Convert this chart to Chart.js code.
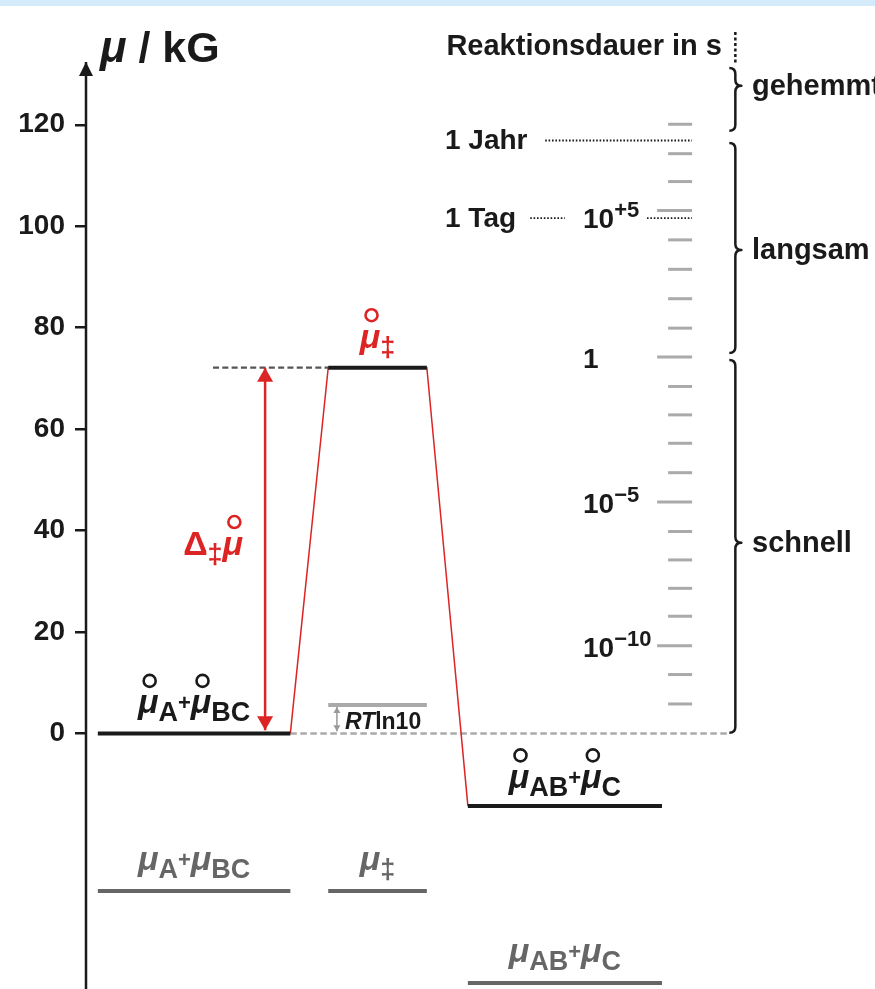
<!DOCTYPE html>
<html>
<head>
<meta charset="utf-8">
<script src="https://cdn.jsdelivr.net/npm/chart.js@4.4.1/dist/chart.umd.min.js"></script>
<style>
  html, body { margin: 0; padding: 0; background: #fff; }
  #wrap { width: 875px; height: 989px; position: relative; }
</style>
</head>
<body>
<div id="wrap"><canvas id="chart" width="875" height="989"></canvas></div>
<script>
// μ axis in kG (kJ/mol)
const muTicks = [0, 20, 40, 60, 80, 100, 120];
const muMin = -50.4;
const muMax = 144.6;

// states along the reaction coordinate (x runs 0..100)
const stateNames = ['A+BC', '‡', 'AB+C'];
const stateStart = [1.5, 30.7, 48.4];
const stateEnd = [25.9, 43.2, 73.0];
const muStandard = [0, 72.1, -14.3];   // black levels (standard potentials)
const muActual = [-31.1, -31.1, -49.2]; // grey levels (actual potentials)
const rtLn10 = 5.6;

// reaction duration scale: one tick per decade of seconds
const decadeExp = [-12, -11, -10, -9, -8, -7, -6, -5, -4, -3, -2, -1, 0, 1, 2, 3, 4, 5, 6, 7, 8];
const decadeMu = [5.8, 11.6, 17.3, 23.1, 28.6, 34.2, 39.8, 45.6, 51.4, 57.2, 62.8, 68.4, 74.2, 79.9, 85.7, 91.5, 97.3, 103.1, 108.8, 114.3, 120.1];
const labeledExp = [5, 0, -5, -10];

const timeLabels = ['1 Jahr', '1 Tag'];
const timeMu = [116.9, 101.6];

const zoneLabels = ['gehemmt', 'langsam', 'schnell'];
const zoneTop = [131.2, 116.4, 73.6];
const zoneBottom = [118.8, 75.0, 0.1];
const zoneTip = [127.7, 95.3, 37.6];

const BLACK = '#1a1a1a';
const RED = '#dd2424';
const GREY = '#666666';
const LIGHT = '#aaaaaa';
const FONT = '"Liberation Sans", Arial, sans-serif';
const MU = '\u03BC';
const DDAG = '\u2021';

function seg(t, size, opts = {}) {
    return Object.assign({ t: t, size: size }, opts);
}

// label pieces for each state: [main, sub, plus, main, sub]
function stateLabel(i, ring) {
    const m = () => seg(MU, 34, { italic: true, ring: ring });
    if (i === 0) return [m(), seg('A', 27, { dy: 8 }), seg('+', 22, { dy: -3 }), m(), seg('BC', 27, { dy: 8 })];
    if (i === 1) return [m(), seg(DDAG, 27, { dy: 8 })];
    return [m(), seg('AB', 27, { dy: 8 }), seg('+', 22, { dy: -3 }), m(), seg('C', 27, { dy: 8 })];
}

function drawRich(ctx, segs, x, y, align, color) {
    ctx.save();
    ctx.fillStyle = color;
    ctx.strokeStyle = color;
    ctx.textAlign = 'left';
    ctx.textBaseline = 'alphabetic';
    const fontOf = s => (s.italic ? 'italic ' : '') + 'bold ' + s.size + 'px ' + FONT;
    let total = 0;
    segs.forEach(s => {
        ctx.font = fontOf(s);
        s.w = ctx.measureText(s.t).width;
        total += s.w;
    });
    let cx = align === 'center' ? x - total / 2 : (align === 'right' ? x - total : x);
    segs.forEach(s => {
        ctx.font = fontOf(s);
        ctx.fillText(s.t, cx, y + (s.dy || 0));
        if (s.ring) {
            ctx.lineWidth = 2.6;
            ctx.beginPath();
            ctx.arc(cx + s.w / 2 + 1.5, y + (s.dy || 0) - 32.5, 6, 0, Math.PI * 2);
            ctx.stroke();
        }
        cx += s.w;
    });
    ctx.restore();
}

function drawBrace(ctx, x, yTop, yBot, yTip, h) {
    ctx.beginPath();
    ctx.moveTo(x - h, yTop);
    ctx.quadraticCurveTo(x, yTop, x, yTop + h);
    ctx.lineTo(x, yTip - h);
    ctx.quadraticCurveTo(x, yTip, x + h, yTip);
    ctx.quadraticCurveTo(x, yTip, x, yTip + h);
    ctx.lineTo(x, yBot - h);
    ctx.quadraticCurveTo(x, yBot, x - h, yBot);
    ctx.stroke();
}

function line(points, color, width, extra = {}) {
    return Object.assign({
        data: points,
        showLine: true,
        borderColor: color,
        borderWidth: width,
        pointRadius: 0,
        borderCapStyle: 'butt',
        clip: false,
        order: 5
    }, extra);
}

const datasets = [];

// y axis line with arrow at top
datasets.push(line([{ x: 0, y: muMin - 1 }, { x: 0, y: 132.4 }], BLACK, 2.5, { order: 0, arrow: { end: true, len: 14, half: 7 } }));

// standard (black) and actual (grey) levels
stateNames.forEach((name, i) => {
    datasets.push(line([{ x: stateStart[i], y: muStandard[i] }, { x: stateEnd[i], y: muStandard[i] }], BLACK, 4, { order: 1 }));
    datasets.push(line([{ x: stateStart[i], y: muActual[i] }, { x: stateEnd[i], y: muActual[i] }], GREY, 4, { order: 1 }));
});

// RT ln10 bar above the zero line at the transition state
datasets.push(line([{ x: stateStart[1], y: rtLn10 }, { x: stateEnd[1], y: rtLn10 }], LIGHT, 4, { order: 1 }));
datasets.push(line([{ x: 31.8, y: 0.4 }, { x: 31.8, y: rtLn10 - 0.4 }], '#999999', 1.5, { order: 1, arrow: { start: true, end: true, len: 6, half: 3.5 } }));

// activation arrow
datasets.push(line([{ x: 22.7, y: muStandard[0] + 0.6 }, { x: 22.7, y: muStandard[1] }], RED, 2.5, { order: 2, arrow: { start: true, end: true, len: 14, half: 8 } }));

// reaction path (red)
datasets.push(line([
    { x: stateEnd[0], y: muStandard[0] },
    { x: stateStart[1], y: muStandard[1] },
    { x: stateEnd[1], y: muStandard[1] },
    { x: stateStart[2], y: muStandard[2] }
], RED, 1.5, { order: 3 }));

// dashed reference lines
datasets.push(line([{ x: stateEnd[0], y: 0 }, { x: 81.4, y: 0 }], LIGHT, 2.5, { borderDash: [6.5, 3.5] }));
datasets.push(line([{ x: 16.1, y: muStandard[1] }, { x: stateStart[1], y: muStandard[1] }], '#555555', 2.2, { borderDash: [6, 3.3] }));

// dotted time markers
datasets.push(line([{ x: 58.2, y: timeMu[0] }, { x: 76.8, y: timeMu[0] }], BLACK, 1.8, { borderDash: [1.6, 1.8] }));
datasets.push(line([{ x: 56.3, y: timeMu[1] }, { x: 60.7, y: timeMu[1] }], BLACK, 1.8, { borderDash: [1.6, 1.8] }));
datasets.push(line([{ x: 71.1, y: timeMu[1] }, { x: 76.8, y: timeMu[1] }], BLACK, 1.8, { borderDash: [1.6, 1.8] }));
datasets.push(line([{ x: 82.3, y: 138.3 }, { x: 82.3, y: zoneTop[0] + 0.8 }], BLACK, 2.5, { borderDash: [3, 2.5] }));

// decade ticks of the reaction duration scale
const shortTicks = decadeExp.map((e, i) => ({ e: e, y: decadeMu[i] })).filter(d => !labeledExp.includes(d.e));
const longTicks = decadeExp.map((e, i) => ({ e: e, y: decadeMu[i] })).filter(d => labeledExp.includes(d.e));
datasets.push({
    data: shortTicks.map(d => ({ x: 75.3, y: d.y })),
    pointStyle: 'line', pointRadius: 12, pointBorderWidth: 3, pointBorderColor: LIGHT,
    showLine: false, clip: false, order: 6
});
datasets.push({
    data: longTicks.map(d => ({ x: 74.6, y: d.y })),
    pointStyle: 'line', pointRadius: 17.5, pointBorderWidth: 3, pointBorderColor: LIGHT,
    showLine: false, clip: false, order: 6
});

const decorPlugin = {
    id: 'decor',
    beforeDraw(chart) {
        const ctx = chart.ctx;
        ctx.save();
        ctx.fillStyle = '#ffffff';
        ctx.fillRect(0, 0, chart.width, chart.height);
        ctx.fillStyle = '#d3ebfb';
        ctx.fillRect(0, 0, chart.width, 6);
        ctx.restore();
    },
    afterDatasetsDraw(chart) {
        const ctx = chart.ctx;
        const xs = chart.scales.x, ys = chart.scales.y;
        const X = v => xs.getPixelForValue(v);
        const Y = v => ys.getPixelForValue(v);

        // arrow heads
        chart.data.datasets.forEach((ds, i) => {
            if (!ds.arrow) return;
            const pts = chart.getDatasetMeta(i).data;
            const head = (tip, from) => {
                const dx = tip.x - from.x, dy = tip.y - from.y;
                const l = Math.hypot(dx, dy);
                const ux = dx / l, uy = dy / l;
                const bx = tip.x - ux * ds.arrow.len, by = tip.y - uy * ds.arrow.len;
                ctx.beginPath();
                ctx.moveTo(tip.x, tip.y);
                ctx.lineTo(bx - uy * ds.arrow.half, by + ux * ds.arrow.half);
                ctx.lineTo(bx + uy * ds.arrow.half, by - ux * ds.arrow.half);
                ctx.closePath();
                ctx.fill();
            };
            ctx.save();
            ctx.fillStyle = ds.borderColor;
            if (ds.arrow.end) head(pts[pts.length - 1], pts[pts.length - 2]);
            if (ds.arrow.start) head(pts[0], pts[1]);
            ctx.restore();
        });

        // axis title
        drawRich(ctx, [seg(MU, 44, { italic: true }), seg(' / kG', 43)], 100, 62, 'left', BLACK);

        // state labels
        stateNames.forEach((name, i) => {
            const cx = X((stateStart[i] + stateEnd[i]) / 2);
            drawRich(ctx, stateLabel(i, true), cx, Y(muStandard[i]) - (i === 2 ? 18 : 20), 'center', i === 1 ? RED : BLACK);
            drawRich(ctx, stateLabel(i, false), cx, Y(muActual[i]) - 21, 'center', GREY);
        });

        // activation label
        drawRich(ctx, [seg('\u0394', 34), seg(DDAG, 27, { dy: 8 }), seg(MU, 34, { italic: true, ring: true })],
            X(22.7) - 22, Y((muStandard[0] + muStandard[1]) / 2) + 4, 'right', RED);

        // RT ln10
        drawRich(ctx, [seg('RT', 23, { italic: true }), seg('ln10', 23)], X(31.8) + 8, Y(0) - 4, 'left', BLACK);

        // duration scale texts
        ctx.save();
        ctx.fillStyle = BLACK;
        ctx.font = 'bold 29px ' + FONT;
        ctx.textAlign = 'right';
        ctx.textBaseline = 'alphabetic';
        ctx.fillText('Reaktionsdauer in s', 722, 55);
        ctx.textAlign = 'left';
        ctx.textBaseline = 'middle';
        zoneLabels.forEach((t, i) => ctx.fillText(t, 752, Y(zoneTip[i]) + 1));
        ctx.font = 'bold 28px ' + FONT;
        timeLabels.forEach((t, i) => ctx.fillText(t, 445, Y(timeMu[i]) + 1));
        ctx.restore();

        labeledExp.forEach(e => {
            const i = decadeExp.indexOf(e);
            const base = e === 5 ? Y(timeMu[1]) + 10 : Y(decadeMu[i]) + 11;
            const segs = e === 0 ? [seg('1', 28)]
                : [seg('10', 28), seg((e > 0 ? '+' : '\u2212') + Math.abs(e), 22, { dy: -11 })];
            drawRich(ctx, segs, 583, base, 'left', BLACK);
        });

        // braces
        ctx.save();
        ctx.strokeStyle = BLACK;
        ctx.lineWidth = 2.5;
        ctx.lineJoin = 'round';
        zoneLabels.forEach((t, i) => {
            drawBrace(ctx, X(82.3), Y(zoneTop[i]), Y(zoneBottom[i]), Y(zoneTip[i]), 6);
        });
        ctx.restore();
    }
};

new Chart(document.getElementById('chart'), {
    type: 'scatter',
    data: { datasets: datasets },
    options: {
        responsive: false,
        animation: false,
        devicePixelRatio: 1,
        layout: { padding: 0, autoPadding: false },
        plugins: { legend: { display: false }, tooltip: { enabled: false } },
        elements: { line: { tension: 0 } },
        scales: {
            x: {
                type: 'linear', min: 0, max: 100, display: false,
                afterFit(scale) { scale.paddingLeft = scale.paddingRight = scale.paddingTop = scale.paddingBottom = 0; }
            },
            y: {
                min: muMin,
                max: muMax,
                afterFit(scale) {
                    scale.width = 86;
                    scale.paddingTop = scale.paddingBottom = scale.paddingLeft = scale.paddingRight = 0;
                },
                afterBuildTicks(scale) { scale.ticks = muTicks.map(v => ({ value: v })); },
                ticks: { font: { family: FONT, size: 28, weight: 'bold' }, color: BLACK, padding: 10 },
                grid: { drawOnChartArea: false, drawTicks: true, tickLength: 11, color: BLACK, lineWidth: 2.5 },
                border: { display: false }
            }
        }
    },
    plugins: [decorPlugin]
});
</script>
</body>
</html>
